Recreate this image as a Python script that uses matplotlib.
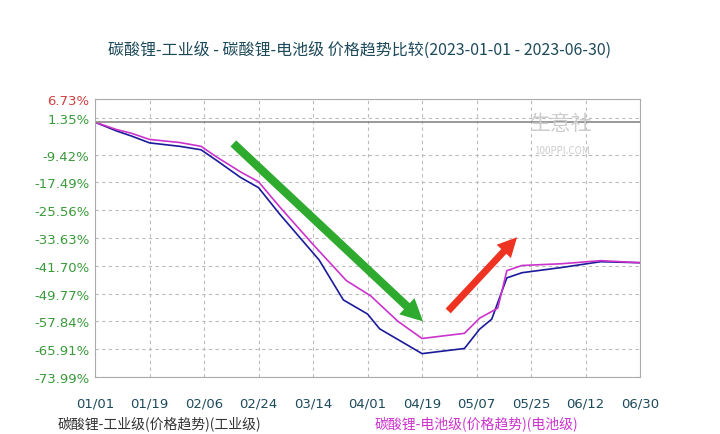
import matplotlib
matplotlib.use("Agg")
import matplotlib.pyplot as plt

plt.rcParams['font.family'] = ['Noto Sans CJK SC', 'DejaVu Sans']

days_m = [0, 7, 12, 18, 28, 35, 40, 48, 54, 61, 72, 83, 91, 100, 108, 122, 127, 133, 136, 141, 154, 167, 180]
vals_m = [0, -2.1, -3.2, -5.0, -5.9, -7.0, -10.0, -14.4, -17.3, -24.6, -35.5, -46.0, -50.4, -57.8, -62.8, -61.3, -56.9, -54.0, -43.1, -41.6, -41.1, -40.2, -40.8]
days_b = [0, 7, 12, 18, 28, 35, 40, 48, 54, 61, 74, 82, 90, 94, 108, 122, 127, 131, 136, 141, 154, 167, 180]
vals_b = [0, -2.5, -4, -6, -7, -8, -11, -16, -19, -26.7, -40, -51.6, -55.7, -60, -67.2, -65.7, -60.1, -57.2, -45.2, -43.7, -42.2, -40.5, -40.8]
xtick_days = [0, 18, 36, 54, 72, 90, 108, 126, 144, 162, 180]
xtick_labels = ['01/01', '01/19', '02/06', '02/24', '03/14', '04/01', '04/19', '05/07', '05/25', '06/12', '06/30']
ytick_vals = [6.73, 1.35, -9.42, -17.49, -25.56, -33.63, -41.70, -49.77, -57.84, -65.91, -73.99]

fig = plt.figure(figsize=(7.2, 4.35), dpi=100)
ax = fig.add_axes([0.132, 0.131, 0.757, 0.639])
ax.plot(days_b, vals_b, color='#1a1a9a', lw=1.2)
ax.plot(days_m, vals_m, color='#cc33cc', lw=1.2)
ax.axhline(0, color='#888888', lw=1.2)
ax.set_xlim(0, 180)
ax.set_ylim(-73.99, 6.73)
ax.set_xticks(xtick_days)
ax.set_xticklabels(xtick_labels, color='#1d4a5a', fontsize=9.5, family='DejaVu Sans')
ax.set_yticks(ytick_vals)
ax.set_yticklabels([f'{v:.2f}%' for v in ytick_vals], fontsize=9.5, family='DejaVu Sans')
for i, t in enumerate(ax.get_yticklabels()):
    t.set_color('#d04040' if i == 0 else '#3a9a3a')
ax.tick_params(length=0, pad=4)
ax.tick_params(axis='x', pad=14)
ax.grid(True, color='#bbbbbb', ls=(0, (3, 3)), lw=0.8)
for s in ax.spines.values():
    s.set_color('#aaaaaa')

ax.annotate('', xy=(109, -58.4), xytext=(45, -5.6),
            arrowprops=dict(arrowstyle='simple,head_width=1.6,head_length=1.6,tail_width=0.6', color='#2eaa2e', lw=0))
ax.annotate('', xy=(140, -32.8), xytext=(116, -55.4),
            arrowprops=dict(arrowstyle='simple,head_width=1.4,head_length=1.4,tail_width=0.5', color='#ee3322', lw=0))

fig.text(0.78, 0.70, '生意社', fontsize=15, color='#cccccc', ha='center')
fig.text(0.78, 0.645, '100PPI.COM', fontsize=7, color='#cccccc', ha='center')

fig.text(0.5, 0.875, '碳酸锂-工业级 - 碳酸锂-电池级 价格趋势比较(2023-01-01 - 2023-06-30)',
         ha='center', fontsize=11.5, color='#1d4a5a')
fig.text(0.08, 0.008, '碳酸锂-工业级(价格趋势)(工业级)', fontsize=10, color='#333333', va='bottom')
fig.text(0.52, 0.008, '碳酸锂-电池级(价格趋势)(电池级)', fontsize=10, color='#cc33cc', va='bottom')

fig.savefig('out.png', dpi=100)
